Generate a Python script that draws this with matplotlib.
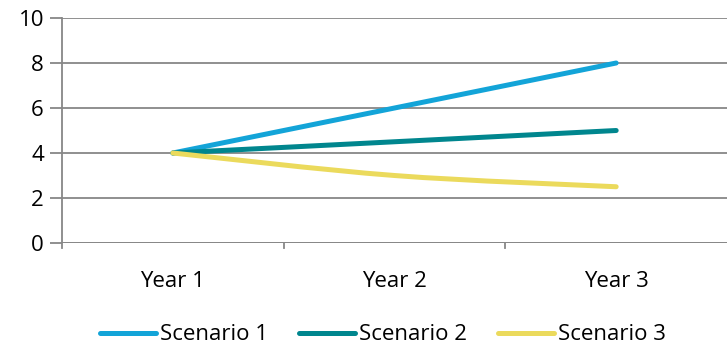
import matplotlib.pyplot as plt
import numpy as np
from matplotlib.path import Path
from matplotlib.patches import PathPatch
from matplotlib.lines import Line2D

plt.rcParams["font.family"] = ["Open Sans", "DejaVu Sans"]

# data
years = ["Year 1", "Year 2", "Year 3"]
scenario1 = [4, 6, 8]
scenario2 = [4, 4.5, 5]
scenario3 = [4, 3, 2.5]

c1 = "#13A4D8"
c2 = "#00868E"
c3 = "#EBDA5C"
grid_c = "#878787"
lw = 3.6
fs = 16

fig = plt.figure(figsize=(7.27, 3.47), dpi=100)
ax = fig.add_axes([0.0853, 0.2997, 0.9147, 0.6484])

x = np.arange(len(years))
ax.plot(x, scenario1, color=c1, lw=lw, solid_capstyle="round", zorder=3)
ax.plot(x, scenario2, color=c2, lw=lw, solid_capstyle="round", zorder=3)

# smoothed line (bezier, spreadsheet-style)
pts = np.column_stack([x, scenario3]).astype(float)
verts = [pts[0]]
codes = [Path.MOVETO]
n = len(pts)
for i in range(n - 1):
    p_prev = pts[i - 1] if i > 0 else pts[i]
    p_next = pts[i + 2] if i + 2 < n else pts[i + 1]
    ctrl1 = pts[i] + (pts[i + 1] - p_prev) / 6
    ctrl2 = pts[i + 1] - (p_next - pts[i]) / 6
    verts += [ctrl1, ctrl2, pts[i + 1]]
    codes += [Path.CURVE4] * 3
ax.add_patch(PathPatch(Path(verts, codes), fill=False, edgecolor=c3, lw=lw,
                       capstyle="round", zorder=3))

ax.set_xlim(-0.5, 2.5)
ax.set_ylim(0, 10)
ax.set_yticks(range(0, 11, 2))
ax.set_xticks(x)
ax.set_xticklabels(years, fontsize=fs)
ax.tick_params(axis="y", labelsize=fs, length=9, width=1.3, color=grid_c, pad=4)
ax.tick_params(axis="x", length=0, pad=20)
for xm in [0.5, 1.5]:
    ax.plot([xm, xm], [0, -0.22], color=grid_c, lw=1.3, clip_on=False)

ax.grid(axis="y", color=grid_c, lw=1.3)
ax.set_axisbelow(True)
for s in ["top", "right", "bottom"]:
    ax.spines[s].set_visible(False)
ax.spines["left"].set_color(grid_c)
ax.spines["left"].set_linewidth(1.3)
ax.spines["left"].set_bounds(-0.22, 10)
ax.plot([-0.5, 2.5], [0, 0], color=grid_c, lw=1.3, zorder=2)

handles = [Line2D([], [], color=c, lw=lw, solid_capstyle="round") for c in (c1, c2, c3)]
fig.legend(handles, ["Scenario 1", "Scenario 2", "Scenario 3"], loc="center",
           bbox_to_anchor=(0.527, 0.035), ncol=3, frameon=False, fontsize=fs,
           handlelength=2.5, handletextpad=0.2, columnspacing=1.4)

fig.savefig("out.png", dpi=100)
